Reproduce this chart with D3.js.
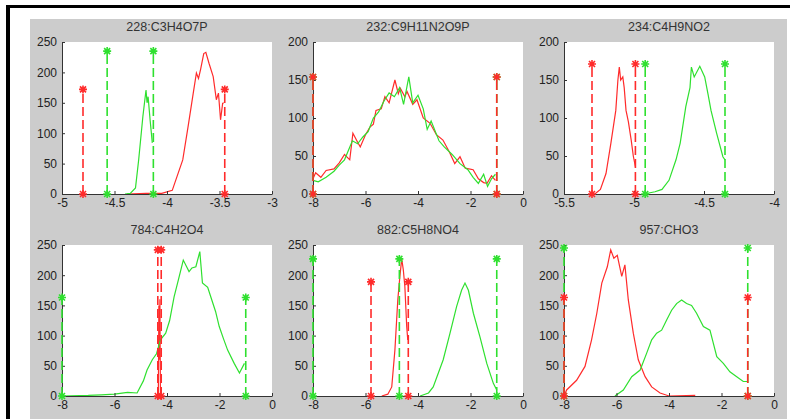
<!DOCTYPE html>
<html>
<head>
<meta charset="utf-8">
<script src="https://cdn.jsdelivr.net/npm/d3@7"></script>
<style>
  body { margin: 0; background: #fff; }
  text { font-family: "Liberation Sans", Arial, sans-serif; }
</style>
</head>
<body>
<script>
// panel titles, in reading order
var titles = ["228:C3H4O7P", "232:C9H11N2O9P", "234:C4H9NO2",
              "784:C4H2O4", "882:C5H8NO4", "957:CHO3"];

var xDomains = [[-5, -3], [-8, 0], [-5.5, -4], [-8, 0], [-8, 0], [-8, 0]];
var xTicks = [[-5, -4.5, -4, -3.5, -3], [-8, -6, -4, -2, 0], [-5.5, -5, -4.5, -4],
              [-8, -6, -4, -2, 0], [-8, -6, -4, -2, 0], [-8, -6, -4, -2, 0]];
var yMax = [250, 200, 200, 250, 250, 250];

// curves: [x, count]
var red228 = [[-4.38, 0], [-4.2, 1], [-4.05, 1], [-3.95, 6], [-3.85, 56], [-3.8, 110], [-3.75, 166],
  [-3.72, 199], [-3.7, 190], [-3.68, 205], [-3.65, 231], [-3.63, 233], [-3.6, 215], [-3.56, 193],
  [-3.53, 155], [-3.51, 166], [-3.49, 122], [-3.47, 149], [-3.46, 150]];
var green228 = [[-4.4, 0], [-4.35, 1], [-4.3, 10], [-4.27, 56], [-4.23, 127], [-4.2, 171],
  [-4.19, 150], [-4.18, 160], [-4.16, 120], [-4.14, 84]];

var red232 = [[-8, 20], [-7.9, 28], [-7.7, 22], [-7.5, 31], [-7.2, 33], [-7, 41], [-6.8, 52],
  [-6.6, 45], [-6.48, 80], [-6.3, 68], [-6.2, 62], [-6, 78], [-5.83, 88], [-5.7, 92], [-5.6, 110],
  [-5.4, 112], [-5.26, 128], [-5.1, 120], [-4.88, 150], [-4.75, 132], [-4.67, 139], [-4.5, 128],
  [-4.42, 135], [-4.2, 118], [-4.04, 124], [-3.8, 100], [-3.54, 93], [-3.3, 78], [-3.05, 71],
  [-2.8, 55], [-2.6, 40], [-2.4, 49], [-2.2, 34], [-1.9, 32], [-1.7, 20], [-1.5, 15], [-1.37, 14],
  [-1.2, 24], [-1.05, 18]];
var green232 = [[-8, 18], [-7.8, 16], [-7.5, 22], [-7.2, 30], [-7, 38], [-6.8, 45], [-6.5, 70],
  [-6.3, 66], [-6.1, 75], [-5.9, 82], [-5.7, 100], [-5.5, 108], [-5.3, 122], [-5.1, 133],
  [-4.9, 128], [-4.7, 140], [-4.55, 118], [-4.35, 154], [-4.2, 120], [-4, 130], [-3.8, 112],
  [-3.65, 85], [-3.5, 96], [-3.2, 70], [-3, 62], [-2.7, 52], [-2.4, 40], [-2.1, 32], [-1.9, 22],
  [-1.7, 14], [-1.5, 26], [-1.35, 10], [-1.2, 20], [-1.05, 26]];

var red234 = [[-5.28, 0], [-5.24, 6], [-5.2, 27], [-5.165, 67], [-5.13, 110], [-5.115, 150],
  [-5.105, 167], [-5.095, 150], [-5.08, 154], [-5.07, 140], [-5.057, 110], [-5.04, 95],
  [-5.02, 71], [-5.005, 50], [-4.99, 36]];
var green234 = [[-4.93, 0], [-4.85, 3], [-4.8, 6], [-4.75, 18], [-4.7, 45], [-4.67, 67],
  [-4.63, 115], [-4.6, 140], [-4.59, 167], [-4.57, 154], [-4.53, 168], [-4.495, 154],
  [-4.47, 130], [-4.45, 110], [-4.41, 80], [-4.365, 49], [-4.35, 45]];

var red784 = [[-4.33, 0], [-4.31, 150], [-4.29, 60], [-4.27, 160], [-4.25, 0]];
var green784 = [[-8, 0], [-7, 1], [-6.5, 2], [-6, 3], [-5.5, 6], [-5.14, 5], [-4.9, 25],
  [-4.76, 43], [-4.56, 60], [-4.4, 70], [-4.25, 93], [-4.05, 104], [-3.9, 125], [-3.73, 164],
  [-3.55, 195], [-3.38, 225], [-3.16, 206], [-3.05, 212], [-2.9, 214], [-2.75, 239],
  [-2.65, 187], [-2.45, 180], [-2.33, 164], [-2.15, 140], [-2.01, 115], [-1.85, 95],
  [-1.69, 76], [-1.44, 54], [-1.24, 38], [-1.05, 54]];

var red882 = [[-5.38, 0], [-5.15, 3], [-5, 15], [-4.88, 76], [-4.77, 159], [-4.69, 198],
  [-4.62, 227], [-4.56, 209], [-4.5, 181], [-4.43, 115], [-4.39, 93], [-4.37, 100]];
var green882 = [[-3.92, 0], [-3.6, 5], [-3.42, 15], [-3.04, 60], [-2.78, 104], [-2.53, 148],
  [-2.34, 175], [-2.21, 187], [-2.08, 175], [-1.89, 137], [-1.64, 98], [-1.38, 54],
  [-1.13, 21], [-1, 10]];

var red957 = [[-8, 0], [-7.9, 10], [-7.52, 26], [-7.2, 49], [-6.95, 93], [-6.75, 137],
  [-6.56, 187], [-6.35, 214], [-6.22, 242], [-6.1, 228], [-5.97, 233], [-5.8, 198],
  [-5.68, 217], [-5.55, 159], [-5.36, 104], [-5.17, 60], [-4.91, 32], [-4.66, 15],
  [-4.34, 5], [-4, 0], [-3, 1]];
var green957 = [[-6.06, 0], [-5.74, 10], [-5.42, 32], [-5.1, 43], [-4.85, 71], [-4.66, 93],
  [-4.47, 104], [-4.28, 109], [-4.09, 126], [-3.9, 142], [-3.71, 153], [-3.52, 159],
  [-3.33, 153], [-3.14, 150], [-2.95, 137], [-2.69, 115], [-2.44, 109], [-2.18, 65],
  [-1.93, 54], [-1.68, 40], [-1.42, 32], [-1.17, 24], [-1.02, 24]];

var redCurves = [red228, red232, red234, red784, red882, red957];
var greenCurves = [green228, green232, green234, green784, green882, green957];

// dashed limit lines: [x, height]
var redLimits = [[[-4.8, 172], [-3.45, 172]], [[-8, 154], [-1, 154]], [[-5.3, 171], [-4.99, 171]],
                 [[-4.35, 242], [-4.22, 242]], [[-5.79, 189], [-4.37, 189]], [[-8, 163], [-1, 163]]];
var greenLimits = [[[-4.57, 235], [-4.13, 235]], [[-8, 154], [-1, 154]], [[-4.92, 171], [-4.35, 171]],
                   [[-8, 163], [-1, 163]], [[-8, 227], [-4.71, 227], [-1, 227]], [[-8, 245], [-1, 245]]];

var RED = "#ff2b2b", GREEN = "#2fe02f";

var width = 800, height = 419;
var svg = d3.select("body").append("svg")
	.attr("width", width)
	.attr("height", height);

// frame like a screenshot of the figure window
svg.append("rect").attr("x", 30).attr("y", 19).attr("width", 757).attr("height", 400).attr("fill", "#cccccc");
svg.append("rect").attr("x", 6).attr("y", 5).attr("width", 4).attr("height", 414).attr("fill", "#000");
svg.append("rect").attr("x", 6).attr("y", 5).attr("width", 784).attr("height", 3).attr("fill", "#000");

var colsX = [62, 313, 564];
var plotW = 210;
var rowsY = [42, 245];
var plotH = [152, 151];

function drawLimits(g, x, y, lims, color) {
	lims.forEach(function (l) {
		g.append("line")
			.attr("x1", x(l[0])).attr("x2", x(l[0]))
			.attr("y1", y(0)).attr("y2", y(l[1]))
			.attr("stroke", color).attr("stroke-width", 1.6)
			.attr("stroke-dasharray", "9,4");
		[0, l[1]].forEach(function (v) {
			var px = x(l[0]), py = y(v);
			g.append("path")
				.attr("d", "M" + (px - 4) + "," + py + "H" + (px + 4) + "M" + px + "," + (py - 4) + "V" + (py + 4)
					+ "M" + (px - 3) + "," + (py - 3) + "L" + (px + 3) + "," + (py + 3)
					+ "M" + (px - 3) + "," + (py + 3) + "L" + (px + 3) + "," + (py - 3))
				.attr("stroke", color).attr("stroke-width", 1.6).attr("fill", "none");
		});
	});
}

function drawPanel(i) {
	var col = i % 3, row = Math.floor(i / 3);
	var px0 = colsX[col], py0 = rowsY[row], ph = plotH[row];
	var x = d3.scaleLinear().domain(xDomains[i]).range([px0, px0 + plotW]);
	var y = d3.scaleLinear().domain([0, yMax[i]]).range([py0 + ph, py0]);
	var g = svg.append("g");

	g.append("rect").attr("x", px0).attr("y", py0).attr("width", plotW).attr("height", ph).attr("fill", "#fff");

	var line = d3.line().x(function (d) { return x(d[0]); }).y(function (d) { return y(d[1]); });

	g.append("path").datum(redCurves[i]).attr("d", line)
		.attr("fill", "none").attr("stroke", RED).attr("stroke-width", 1.2);
	g.append("path").datum(greenCurves[i]).attr("d", line)
		.attr("fill", "none").attr("stroke", GREEN).attr("stroke-width", 1.2);

	var xAxis = g.append("g").attr("transform", "translate(0," + (py0 + ph) + ")")
		.call(d3.axisBottom(x).tickValues(xTicks[i]).tickSizeInner(-3).tickSizeOuter(0).tickPadding(4)
			.tickFormat(function (d) { return String(d); }));
	var yAxis = g.append("g").attr("transform", "translate(" + px0 + ",0)")
		.call(d3.axisLeft(y).ticks(yMax[i] / 50).tickSizeInner(-3).tickSizeOuter(0).tickPadding(5)
			.tickFormat(function (d) { return String(d); }));
	[xAxis, yAxis].forEach(function (a) {
		a.selectAll("path, line").attr("stroke", "#333");
		a.selectAll("text").attr("fill", "#222").style("font-size", "12px");
	});

	// limit lines drawn over the axes, like the reference
	drawLimits(g, x, y, greenLimits[i], GREEN);
	drawLimits(g, x, y, redLimits[i], RED);

	g.append("text")
		.attr("x", px0 + plotW / 2).attr("y", py0 - 11)
		.attr("text-anchor", "middle")
		.attr("fill", "#333")
		.style("font-size", "12.5px")
		.text(titles[i]);
}

for (var i = 0; i < 6; i++) drawPanel(i);
</script>
</body>
</html>
